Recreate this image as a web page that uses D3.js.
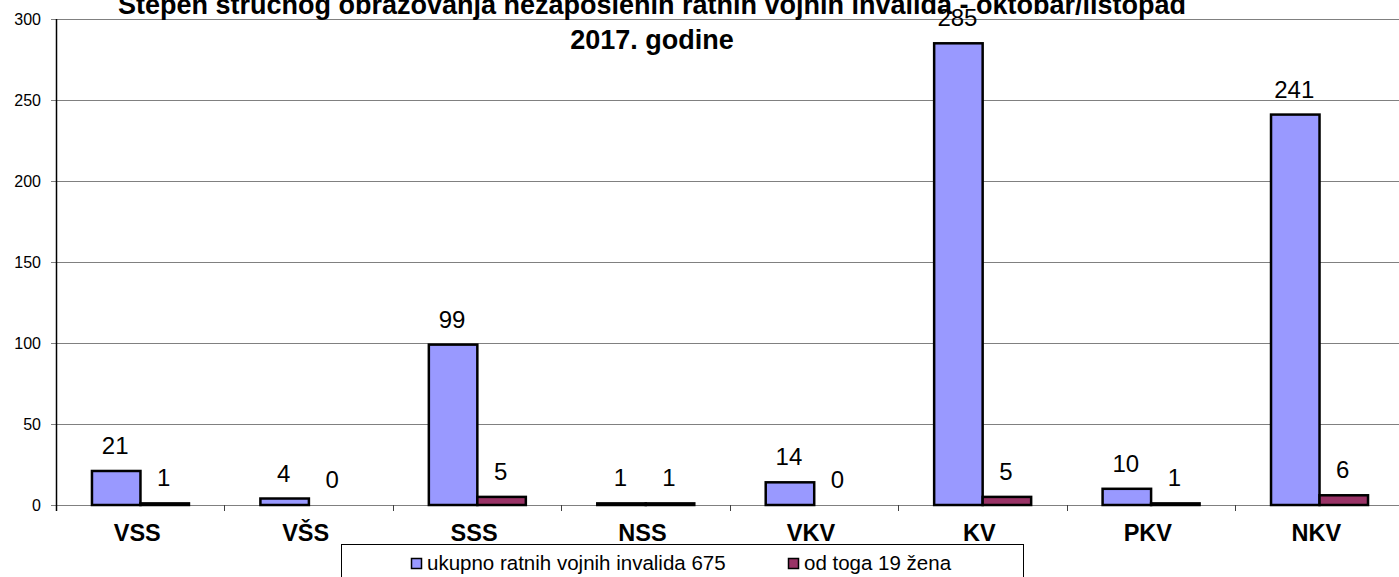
<!DOCTYPE html>
<html><head><meta charset="utf-8">
<script src="https://cdn.jsdelivr.net/npm/d3@7"></script>
<style>body{margin:0;background:#fff;overflow:hidden}svg{display:block}text{font-family:"Liberation Sans",Arial,sans-serif}</style>
</head><body>
<svg id="c" width="1399" height="577"></svg>
<script>
const categories = ["VSS","VŠS","SSS","NSS","VKV","KV","PKV","NKV"];
const totalValues = [21,4,99,1,14,285,10,241];
const womenValues = [1,0,5,1,0,5,1,6];
const seriesNames = ["ukupno ratnih vojnih invalida 675","od toga 19 žena"];
const yTicks = [0,50,100,150,200,250,300];
const titleLines = ["Stepen stručnog obrazovanja nezaposlenih ratnih vojnih invalida - oktobar/listopad","2017. godine"];
const colors = ["#9999FF","#993366"];

const svg = d3.select("#c");
const x0 = 56, plotW = 1347.5, yBottom = 505, yTop = 19;
const x = d3.scaleBand().domain(categories).range([x0, x0+plotW]).padding(0);
const bw = x.bandwidth();
const xs = d3.scaleBand().domain([0,1]).range([bw*0.2135, bw*0.2135 + 97]).padding(0);
const y = d3.scaleLinear().domain([0,300]).range([yBottom, yTop]);

// gridlines
svg.append("g").selectAll("line").data(yTicks).join("line")
  .attr("x1", 51).attr("x2", 1399)
  .attr("y1", d=>Math.round(y(d))+0.5).attr("y2", d=>Math.round(y(d))+0.5)
  .attr("stroke", "#808080").attr("stroke-width",1);
// y tick labels
svg.append("g").selectAll("text").data(yTicks).join("text")
  .attr("x", 41).attr("y", d=>y(d)+6).attr("text-anchor","end")
  .attr("font-size","16px").attr("fill","#000").text(d=>d);
// x ticks
const tickXs = categories.map(c=>x(c)).concat([x0+plotW]);
svg.append("g").selectAll("line").data(tickXs).join("line")
  .attr("x1", d=>Math.round(d)+0.5).attr("x2", d=>Math.round(d)+0.5)
  .attr("y1", yBottom).attr("y2", yBottom+6).attr("stroke","#404040");
// y axis line
svg.append("line").attr("x1",x0+0.5).attr("x2",x0+0.5).attr("y1",yTop).attr("y2",yBottom+6)
  .attr("stroke","#000").attr("stroke-width",1.5);

// bars
const data = categories.map((c,i)=>({c, vals:[totalValues[i], womenValues[i]]}));
const groups = svg.append("g").selectAll("g").data(data).join("g")
  .attr("transform", d=>`translate(${x(d.c)},0)`);
groups.selectAll("rect").data(d=>d.vals.map((v,k)=>({v,k})).filter(e=>e.v>0)).join("rect")
  .attr("x", e=>xs(e.k)).attr("width", xs.bandwidth())
  .attr("y", e=>y(e.v)).attr("height", e=>yBottom - y(e.v))
  .attr("fill", e=>colors[e.k]).attr("stroke","#000").attr("stroke-width",2.5);
groups.selectAll("text").data(d=>d.vals.map((v,k)=>({v,k}))).join("text")
  .attr("x", e=>xs(e.k)+xs.bandwidth()/2 - 1).attr("y", e=>y(e.v)-17)
  .attr("text-anchor","middle").attr("font-size","24px").attr("fill","#000").text(e=>e.v);

// category labels
svg.append("g").selectAll("text").data(categories).join("text")
  .attr("x", c=>x(c)+bw/2 - 3).attr("y", 541).attr("text-anchor","middle")
  .attr("font-size","23.5px").attr("font-weight","bold").attr("fill","#000").text(c=>c);

// title
svg.append("g").selectAll("text").data(titleLines).join("text")
  .attr("x", 652).attr("y",(d,i)=>14+i*35).attr("text-anchor","middle")
  .attr("font-size","27px").attr("font-weight","bold").attr("fill","#000").text(d=>d);

// legend
svg.append("rect").attr("x",341.5).attr("y",544.5).attr("width",682).attr("height",40)
  .attr("fill","#fff").attr("stroke","#000").attr("stroke-width",1);
const legX = [411, 788];
const lg = svg.append("g").selectAll("g").data(seriesNames).join("g")
  .attr("transform",(d,i)=>`translate(${legX[i]},0)`);
lg.append("rect").attr("x",0.5).attr("y",558.5).attr("width",10).attr("height",10)
  .attr("fill",(d,i)=>colors[i]).attr("stroke","#000").attr("stroke-width",1.5);
lg.append("text").attr("x",16).attr("y",570).attr("font-size","20.5px").attr("fill","#000").text(d=>d);
</script>
</body></html>
